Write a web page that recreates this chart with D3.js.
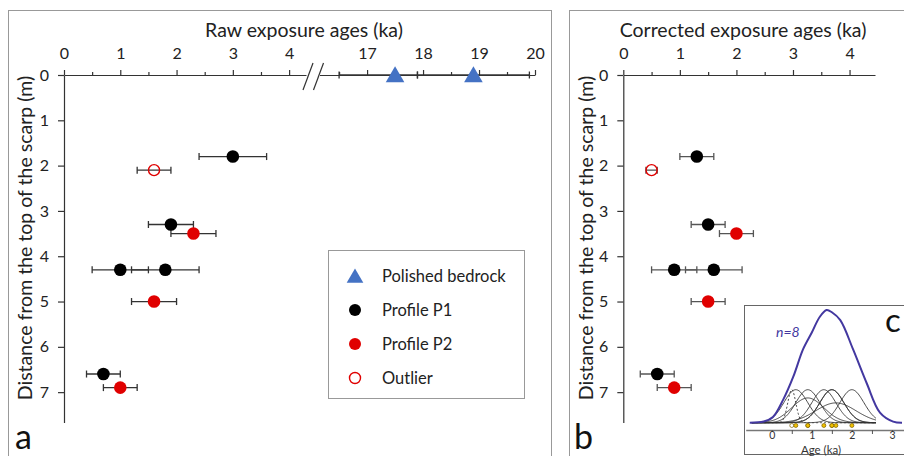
<!DOCTYPE html>
<html>
<head>
<meta charset="utf-8">
<script src="https://cdn.jsdelivr.net/npm/d3@7"></script>
<style>
  body { margin: 0; background: #fff; }
  svg { display: block; font-family: Lato, "Open Sans", sans-serif; }
  .axis path, .axis line { stroke: #333; stroke-width: 1.2; }
  .axis text { fill: #222; font-size: 16px; font-family: Lato, sans-serif; }
</style>
</head>
<body>
<svg id="chart" width="904" height="456"></svg>
<script>
// depth below the top of the scarp (m) and age axes (ka)
const depthTicks = [0, 1, 2, 3, 4, 5, 6, 7];
const rawTicksLow = [0, 1, 2, 3, 4];
const rawMinorLow = [0.5, 1.5, 2.5, 3.5];
const rawTicksHigh = [17, 18, 19, 20];
const rawMinorHigh = [16.5, 17.5, 18.5, 19.5];
const corrTicks = [0, 1, 2, 3, 4];
const corrMinor = [0.5, 1.5, 2.5, 3.5];

// samples, same order in both panels
const sampleGroup = ["P1", "Outlier", "P1", "P2", "P1", "P1", "P2", "P1", "P2"];
const sampleDepth = [1.8, 2.1, 3.3, 3.5, 4.3, 4.3, 5.0, 6.6, 6.9];
const rawAge = [3.0, 1.6, 1.9, 2.3, 1.0, 1.8, 1.6, 0.7, 1.0];
const rawErr = [0.6, 0.3, 0.4, 0.4, 0.5, 0.6, 0.4, 0.3, 0.3];
const corrAge = [1.3, 0.5, 1.5, 2.0, 0.9, 1.6, 1.5, 0.6, 0.9];
const corrErr = [0.3, 0.1, 0.3, 0.3, 0.4, 0.5, 0.3, 0.3, 0.3];

// polished bedrock at the scarp top
const bedrockAge = [17.5, 18.9];
const bedrockLow = [16.5, 17.9];
const bedrockHigh = [17.9, 19.9];

const legendLabels = ["Polished bedrock", "Profile P1", "Profile P2", "Outlier"];
const legendKeys = ["Bedrock", "P1", "P2", "Outlier"];

// inset c: summed probability curve, relative density
const sumAge = [-0.55, -0.2, 0.03, 0.28, 0.54, 0.78, 1.0, 1.2, 1.37, 1.5, 1.71, 2.03, 2.37, 2.7, 3.03, 3.25];
const sumDensity = [0, 0.01, 0.05, 0.2, 0.41, 0.65, 0.8, 0.94, 1.0, 0.98, 0.91, 0.65, 0.35, 0.09, 0.01, 0];
const insetTicks = [0, 1, 2, 3];
const insetMinor = [0.5, 1.5, 2.5];

var svg = d3.select("#chart");

var fillOf = {P1: "#000", P2: "#e00000", Outlier: "#fff"};
var strokeOf = {P1: "#000", P2: "#e00000", Outlier: "#e00000"};

// panel frames
svg.append("rect").attr("x", 8.5).attr("y", 10.5).attr("width", 543).attr("height", 470)
  .attr("fill", "none").attr("stroke", "#999");
svg.append("rect").attr("x", 569.5).attr("y", 10.5).attr("width", 400).attr("height", 470)
  .attr("fill", "none").attr("stroke", "#999");

var y = d3.scaleLinear().domain([0, 7.67]).range([75, 422.5]);

var xLow = d3.scaleLinear().domain([0, 4.3]).range([64, 306]);
var xHigh = d3.scaleLinear().domain([16.15, 20]).range([319.5, 535]);
var xCorr = d3.scaleLinear().domain([0, 4.45]).range([623.3, 875]);

var fmt = d3.format("d");

function topAxis(scale, major, minor) {
  svg.append("g").attr("class", "axis").attr("transform", `translate(0,${y(0)})`)
    .call(d3.axisTop(scale).tickValues(major).tickFormat(fmt).tickSize(5).tickSizeOuter(0).tickPadding(11));
  svg.append("g").attr("class", "axis").attr("transform", `translate(0,${y(0)})`)
    .call(d3.axisTop(scale).tickValues(minor).tickSize(3).tickFormat(""))
    .select(".domain").remove();
}

function leftAxis(x0) {
  svg.append("g").attr("class", "axis").attr("transform", `translate(${x0},0)`)
    .call(d3.axisLeft(y).tickValues(depthTicks).tickFormat(fmt).tickSize(6).tickSizeOuter(0).tickPadding(9));
}

function errorBars(g, xs, lo, hi, ys, color) {
  var idx = d3.range(ys.length);
  g.selectAll("line.bar").data(idx).join("line").attr("class", "bar")
    .attr("x1", i => xs(lo[i])).attr("x2", i => xs(hi[i]))
    .attr("y1", i => y(ys[i])).attr("y2", i => y(ys[i]));
  g.selectAll("line.capl").data(idx).join("line").attr("class", "capl")
    .attr("x1", i => xs(lo[i])).attr("x2", i => xs(lo[i]))
    .attr("y1", i => y(ys[i]) - 3.5).attr("y2", i => y(ys[i]) + 3.5);
  g.selectAll("line.caph").data(idx).join("line").attr("class", "caph")
    .attr("x1", i => xs(hi[i])).attr("x2", i => xs(hi[i]))
    .attr("y1", i => y(ys[i]) - 3.5).attr("y2", i => y(ys[i]) + 3.5);
  g.selectAll("line").attr("stroke", color).attr("stroke-width", 1.3);
}

function samples(xs, ages, errs, barColor) {
  var g = svg.append("g");
  var lo = ages.map((a, i) => a - errs[i]);
  var hi = ages.map((a, i) => a + errs[i]);
  errorBars(g.append("g"), xs, lo, hi, sampleDepth, barColor);
  g.append("g").selectAll("circle").data(d3.range(ages.length)).join("circle")
    .attr("cx", i => xs(ages[i]))
    .attr("cy", i => y(sampleDepth[i]))
    .attr("r", i => sampleGroup[i] == "Outlier" ? 5.5 : 6.3)
    .attr("fill", i => fillOf[sampleGroup[i]])
    .attr("fill-opacity", i => sampleGroup[i] == "Outlier" ? 0 : 1)
    .attr("stroke", i => strokeOf[sampleGroup[i]])
    .attr("stroke-width", i => sampleGroup[i] == "Outlier" ? 1.4 : 0);
}

// ---- panel a: raw ages with broken axis
topAxis(xLow, rawTicksLow, rawMinorLow);
topAxis(xHigh, rawTicksHigh, rawMinorHigh);
leftAxis(xLow(0));

var breakL = xLow.range()[1], breakR = xHigh.range()[0];
[breakL + 2, breakR - 1].forEach(cx => {
  svg.append("line")
    .attr("x1", cx - 5).attr("y1", y(0) + 15)
    .attr("x2", cx + 5).attr("y2", y(0) - 12)
    .attr("stroke", "#333").attr("stroke-width", 1.2);
});

samples(xLow, rawAge, rawErr, "#333");

var bedrock = svg.append("g");
errorBars(bedrock.append("g"), xHigh, bedrockLow, bedrockHigh, bedrockAge.map(() => 0), "#333");
bedrock.selectAll("path").data(bedrockAge).join("path")
  .attr("d", d3.symbol().type(d3.symbolTriangle).size(150))
  .attr("transform", d => `translate(${xHigh(d)},${y(0) + 2})`)
  .attr("fill", "#4472c4");

svg.append("text").attr("x", 304).attr("y", 37).attr("text-anchor", "middle")
  .attr("font-size", 19.5).attr("fill", "#222").text("Raw exposure ages (ka)");
svg.append("text").attr("transform", "translate(32,238) rotate(-90)").attr("text-anchor", "middle")
  .attr("font-size", 19.5).attr("fill", "#222").text("Distance from the top of the scarp (m)");
svg.append("text").attr("x", 15).attr("y", 449).attr("font-size", 34).attr("fill", "#111").text("a");

// legend
var legend = svg.append("g");
legend.append("rect").attr("x", 328.5).attr("y", 250.5).attr("width", 196).attr("height", 148)
  .attr("fill", "#fff").attr("stroke", "#999");
var legendRow = d3.scalePoint().domain(legendKeys).range([276, 378]);
legendKeys.forEach((k, i) => {
  var ly = legendRow(k);
  if (k == "Bedrock") {
    legend.append("path").attr("d", d3.symbol().type(d3.symbolTriangle).size(120))
      .attr("transform", `translate(355,${ly + 2})`).attr("fill", "#4472c4");
  } else {
    legend.append("circle").attr("cx", 355).attr("cy", ly).attr("r", k == "Outlier" ? 5.5 : 6)
      .attr("fill", fillOf[k]).attr("fill-opacity", k == "Outlier" ? 0 : 1)
      .attr("stroke", strokeOf[k]).attr("stroke-width", k == "Outlier" ? 1.4 : 0);
  }
  legend.append("text").attr("x", 382).attr("y", ly + 6).attr("font-size", 16.5)
    .attr("fill", "#222").text(legendLabels[i]);
});

// ---- panel b: corrected ages
topAxis(xCorr, corrTicks, corrMinor);
leftAxis(xCorr(0));
samples(xCorr, corrAge, corrErr, "#555");

svg.append("text").attr("x", 743).attr("y", 37).attr("text-anchor", "middle")
  .attr("font-size", 19.5).attr("fill", "#222").text("Corrected exposure ages (ka)");
svg.append("text").attr("transform", "translate(593,238) rotate(-90)").attr("text-anchor", "middle")
  .attr("font-size", 19.5).attr("fill", "#222").text("Distance from the top of the scarp (m)");
svg.append("text").attr("x", 574).attr("y", 449).attr("font-size", 34).attr("fill", "#111").text("b");

// ---- inset c: probability density of corrected ages
var inset = svg.append("g");
inset.append("rect").attr("x", 744.5).attr("y", 305.5).attr("width", 180).attr("height", 149)
  .attr("fill", "#fff").attr("stroke", "#666");

var xC = d3.scaleLinear().domain([-0.65, 3.3]).range([745.7, 904]);
var yInd = d3.scaleLinear().domain([0, 1]).range([422.7, 389.7]);
var ySum = d3.scaleLinear().domain([0, 1]).range([422.7, 310]);

inset.append("g").attr("transform", "translate(0,430)")
  .call(d3.axisBottom(xC).tickValues(insetTicks).tickFormat(fmt).tickSize(2).tickSizeOuter(0).tickPadding(0))
  .call(g => g.select(".domain").attr("stroke", "#777").attr("stroke-width", 1.6))
  .call(g => g.selectAll(".tick line").attr("stroke", "#555"))
  .call(g => g.selectAll(".tick text").attr("font-size", 10.5).attr("font-family", "Lato").attr("fill", "#333"));
inset.append("g").attr("transform", "translate(0,430)")
  .call(d3.axisBottom(xC).tickValues(insetMinor).tickSize(4).tickFormat(""))
  .call(g => g.select(".domain").remove())
  .call(g => g.selectAll(".tick line").attr("stroke", "#555"));

inset.append("text").attr("x", 821).attr("y", 453.5).attr("text-anchor", "middle")
  .attr("font-size", 11.5).attr("fill", "#333").text("Age (ka)");

// individual gaussians from the corrected ages (outlier dashed)
var grid = d3.range(-0.5, 2.61, 0.02);
var gauss = (a, m, s) => Math.exp(-0.5 * ((a - m) / s) ** 2);
var indLine = d3.line().x(d => xC(d[0])).y(d => yInd(d[1]));
corrAge.forEach((m, i) => {
  var s = corrErr[i];
  var outlier = sampleGroup[i] == "Outlier";
  var k = outlier ? 1 : 0.3 / s;
  inset.append("path")
    .attr("d", indLine(grid.map(a => [a, k * gauss(a, m, s)])))
    .attr("fill", "none").attr("stroke", "#333").attr("stroke-width", 0.9)
    .attr("stroke-dasharray", outlier ? "2,2" : null);
});

inset.append("path")
  .attr("d", d3.line().curve(d3.curveCatmullRom).x(i => xC(sumAge[i])).y(i => ySum(sumDensity[i]))(d3.range(sumAge.length)))
  .attr("fill", "none").attr("stroke", "#4338a0").attr("stroke-width", 2);

inset.selectAll("circle.age").data(d3.range(corrAge.length)).join("circle")
  .attr("cx", i => xC(corrAge[i])).attr("cy", 425.5).attr("r", 2)
  .attr("fill", i => sampleGroup[i] == "Outlier" ? "#fff" : "#f0c000")
  .attr("stroke", "#7a6000").attr("stroke-width", 0.7);

inset.append("text").attr("x", 776).attr("y", 337).attr("font-size", 14).attr("font-style", "italic")
  .attr("fill", "#4338a0").text("n=8");
inset.append("text").attr("x", 885).attr("y", 332).attr("font-size", 33).attr("fill", "#111").text("c");
</script>
</body>
</html>
